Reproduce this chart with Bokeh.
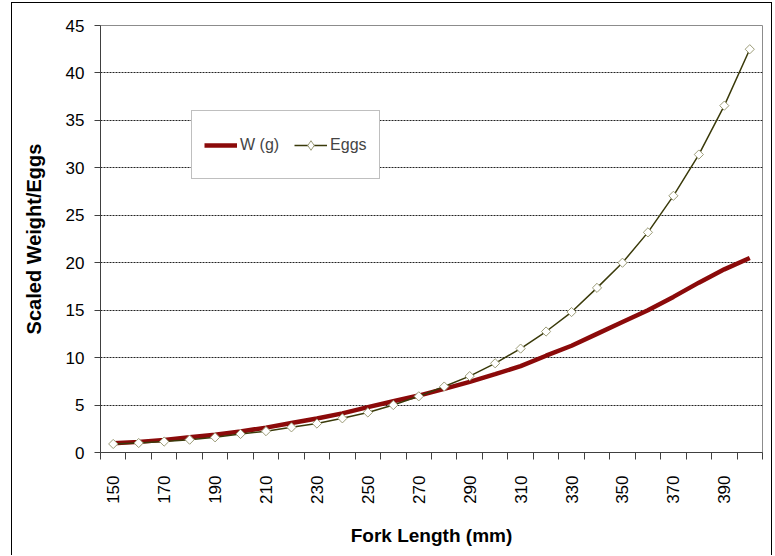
import math
from bokeh.plotting import figure
from bokeh.models import FixedTicker, Legend, LegendItem, Range1d
from bokeh.embed import file_html
from bokeh.resources import INLINE

# ---- data ----
fork_length = [150, 160, 170, 180, 190, 200, 210, 220, 230, 240, 250, 260, 270,
               280, 290, 300, 310, 320, 330, 340, 350, 360, 370, 380, 390, 400]
weight_g = [0.98, 1.12, 1.33, 1.60, 1.88, 2.22, 2.62, 3.10, 3.58, 4.12, 4.78, 5.40, 6.00,
            6.70, 7.45, 8.25, 9.10, 10.20, 11.25, 12.50, 13.75, 15.00, 16.40, 17.90, 19.30, 20.50]
eggs = [0.90, 1.00, 1.15, 1.35, 1.60, 1.95, 2.25, 2.65, 3.05, 3.60, 4.22, 5.00, 5.92,
        6.95, 8.05, 9.40, 10.95, 12.75, 14.80, 17.35, 20.00, 23.20, 27.05, 31.40, 36.55, 42.50]
x_tick_labels = [150, 170, 190, 210, 230, 250, 270, 290, 310, 330, 350, 370, 390]
y_ticks = [0, 5, 10, 15, 20, 25, 30, 35, 40, 45]
y_grid = [5, 10, 15, 20, 25, 30, 35, 40]
series_names = ["W (g)", "Eggs"]
x_title = "Fork Length (mm)"
y_title = "Scaled Weight/Eggs"

FONT = "Liberation Sans"
half = (fork_length[1] - fork_length[0]) / 2

p = figure(width=761, height=553, output_backend="svg", toolbar_location=None,
           x_range=Range1d(fork_length[0] - half, fork_length[-1] + half),
           y_range=Range1d(y_ticks[0], y_ticks[-1]),
           min_border_left=88, min_border_right=11, min_border_top=22, min_border_bottom=104,
           background_fill_color="white", border_fill_color="white",
           styles={"margin-left": "11px", "margin-top": "2px",
                   "border-left": "1px solid black", "border-top": "1px solid black",
                   "border-right": "1px solid black"})

p.outline_line_color = "#8c8c8c"
p.outline_line_width = 1

# grids
p.xgrid.visible = False
p.ygrid.ticker = FixedTicker(ticks=y_grid)
p.ygrid.grid_line_color = "#222222"
p.ygrid.grid_line_dash = "2 1"
p.ygrid.grid_line_width = 1

# x axis
boundaries = [f - half for f in fork_length] + [fork_length[-1] + half]
p.xaxis.ticker = FixedTicker(ticks=x_tick_labels, minor_ticks=boundaries)
p.xaxis.major_tick_out = 0
p.xaxis.major_tick_in = 0
p.xaxis.minor_tick_out = 7
p.xaxis.minor_tick_in = 0
p.xaxis.minor_tick_line_color = "#404040"
p.xaxis.major_label_orientation = math.pi / 2
p.xaxis.major_label_standoff = 16
p.xaxis.axis_label = x_title
p.xaxis.axis_label_standoff = 18
p.xaxis.axis_label_text_font_size = "19px"

# y axis
p.yaxis.ticker = FixedTicker(ticks=y_ticks)
p.yaxis.major_tick_out = 6
p.yaxis.major_tick_in = 0
p.yaxis.minor_tick_out = 0
p.yaxis.minor_tick_in = 0
p.yaxis.major_label_standoff = 10
p.yaxis.axis_label = y_title
p.yaxis.axis_label_standoff = 18
p.yaxis.axis_label_text_font_size = "20px"

for ax in (p.xaxis, p.yaxis):
    ax.axis_line_color = "#404040"
    ax.major_tick_line_color = "#404040"
    ax.major_label_text_font = FONT
    ax.major_label_text_font_size = "17px"
    ax.major_label_text_color = "black"
    ax.axis_label_text_font = FONT
    ax.axis_label_text_font_style = "bold"
    ax.axis_label_text_color = "black"

# series
r_w = p.line(fork_length, weight_g, line_color="#8B0A0A", line_width=4.5)
r_e = p.line(fork_length, eggs, line_color="#3A3A0A", line_width=1.5)
r_m = p.scatter(fork_length, eggs, marker="square", angle=math.pi / 4, size=6.5,
                line_color="#9c9c78", fill_color="white", line_width=1)
# legend-only diamond symbol (same data, hidden in the plot)
r_leg = p.scatter(fork_length, eggs, marker="diamond", size=10,
                  line_color="#9c9c78", fill_color="white", line_width=1, visible=False)

legend = Legend(items=[LegendItem(label=series_names[0], renderers=[r_w]),
                       LegendItem(label=series_names[1], renderers=[r_e, r_leg])],
                location=(91, 273), orientation="horizontal",
                padding=12, spacing=15, label_standoff=3, margin=0,
                glyph_width=33, glyph_height=24, label_height=43,
                label_text_font=FONT, label_text_font_size="16px",
                border_line_color="#7f7f7f", border_line_width=1,
                background_fill_color="white", background_fill_alpha=1,
                inactive_fill_alpha=0)
p.add_layout(legend)

open("out.html", "w").write(file_html(p, INLINE))
